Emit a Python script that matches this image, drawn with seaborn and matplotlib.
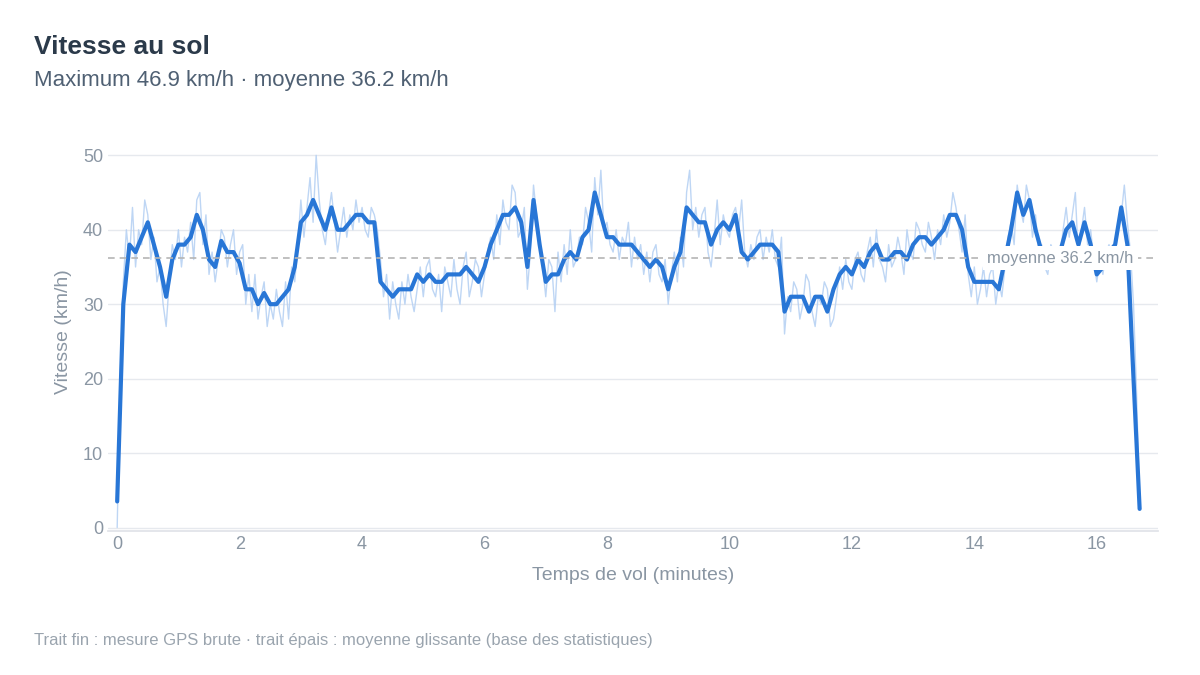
import numpy as np
import pandas as pd
import matplotlib
matplotlib.use("Agg")
import matplotlib.pyplot as plt
import seaborn as sns

smooth = [3.5,30,38,37,39,41,38,35,31,36,38,38,39,42,40,36,35,38.5,37,37,
          35.5,32,32,30,31.5,30,30,31,32,35,41,42,44,42,40,43,40,40,41,42,
          42,41,41,33,32,31,32,32,32,34,33,34,33,33,34,34,34,35,34,33,
          35,38,40,42,42,43,41,35,44,38,33,34,34,36,37,36,39,40,45,42,
          39,39,38,38,38,37,36,35,36,35,32,35,37,43,42,41,41,38,40,41,
          40,42,37,36,37,38,38,38,37,29,31,31,31,29,31,31,29,32,34,35,
          34,36,35,37,38,36,36,37,37,36,38,39,39,38,39,40,42,42,40,35,
          33,33,33,33,32,36,40,45,42,44,40,37,36,36,37,40,41,38,41,38,
          34,35,37,38,43,38,20,2.5]
raw = [0,20,33,40,36,43,35,40,38,44,42,36,39,33,35,30,27,33,38,36,
       40,35,39,37,41,36,44,45,38,42,34,37,33,36,40,39,35,38,40,34,
       37,38,30,34,29,34,28,31,33,27,30,28,32,29,27,33,28,35,33,38,
       44,39,43,47,41,50,44,40,38,42,45,41,37,40,43,39,42,40,44,41,
       43,40,39,43,42,40,36,31,34,28,33,30,28,33,30,34,31,29,32,35,
       31,35,36,32,31,34,29,35,33,31,36,32,30,35,37,31,33,36,35,31,
       34,37,39,36,42,38,44,41,40,46,45,39,40,43,32,37,46,42,39,35,
       31,36,35,29,37,33,38,34,40,35,36,39,38,43,41,37,47,42,48,40,
       41,38,37,40,36,39,38,41,35,39,36,38,34,37,33,37,38,34,33,36,
       30,34,37,33,39,35,45,48,40,43,39,42,43,37,35,39,44,38,42,40,
       39,42,43,40,44,37,35,38,36,39,40,36,39,37,40,36,35,39,26,31,
       29,33,32,28,30,34,33,29,27,31,30,33,32,27,28,31,35,32,36,33,
       32,36,37,34,33,37,39,35,40,36,35,33,38,35,36,39,37,34,40,37,
       36,41,40,38,37,41,39,36,40,38,42,39,41,45,43,40,37,42,34,31,
       35,30,32,35,31,34,35,30,33,31,35,39,41,38,46,43,41,46,44,39,
       42,37,38,35,34,38,37,35,36,40,43,39,42,45,36,40,43,38,40,36,
       33,36,34,37,38,36,37,40,42,46,41,37,30,18,3]
mean_speed = 36.2
max_speed = 46.9

t_s = np.arange(len(smooth)) * 0.1
t_r = np.arange(len(raw)) * 0.05
df_s = pd.DataFrame({"t": t_s, "v": smooth})
df_r = pd.DataFrame({"t": t_r, "v": raw})

sns.set_theme(style="white")
plt.rcParams['font.family'] = ['Liberation Sans', 'DejaVu Sans']
fig, ax = plt.subplots(figsize=(12, 6.75), dpi=100)
fig.subplots_adjust(left=0.09, right=0.965, top=0.803, bottom=0.213)

sns.lineplot(data=df_r, x="t", y="v", ax=ax, color="#b3cff3", lw=1.0, alpha=0.85)
sns.lineplot(data=df_s, x="t", y="v", ax=ax, color="#2876d6", lw=3)
ax.axhline(mean_speed, color="#b5b5b5", ls=(0, (4, 3)), lw=1.2)
ax.text(16.6, mean_speed, f"moyenne {mean_speed} km/h", ha="right", va="center",
        fontsize=12, color="#8a96a3",
        bbox=dict(facecolor="white", edgecolor="none", pad=3))

ax.set_xlim(-0.15, 17.0)
ax.set_ylim(-0.5, 53)
ax.set_xticks(range(0, 17, 2))
ax.set_yticks(range(0, 51, 10))
ax.grid(axis="y", color="#e6e9ee", lw=1)
for s in ["top", "right", "left"]:
    ax.spines[s].set_visible(False)
ax.spines["bottom"].set_color("#e0e3e8")
ax.tick_params(colors="#8a96a3", labelsize=13, length=0)
ax.set_xlabel("Temps de vol (minutes)", fontsize=14, color="#8a96a3", labelpad=10)
ax.set_ylabel("Vitesse (km/h)", fontsize=14, color="#8a96a3", labelpad=8)

fig.text(0.028, 0.92, "Vitesse au sol", fontsize=19, fontweight="bold", color="#2b3a4a")
fig.text(0.028, 0.873, f"Maximum {max_speed} km/h · moyenne {mean_speed} km/h",
         fontsize=16, color="#4f6073")
fig.text(0.028, 0.045, "Trait fin : mesure GPS brute · trait épais : moyenne glissante (base des statistiques)",
         fontsize=12, color="#9aa4ae")
fig.savefig("out.png", dpi=100)
